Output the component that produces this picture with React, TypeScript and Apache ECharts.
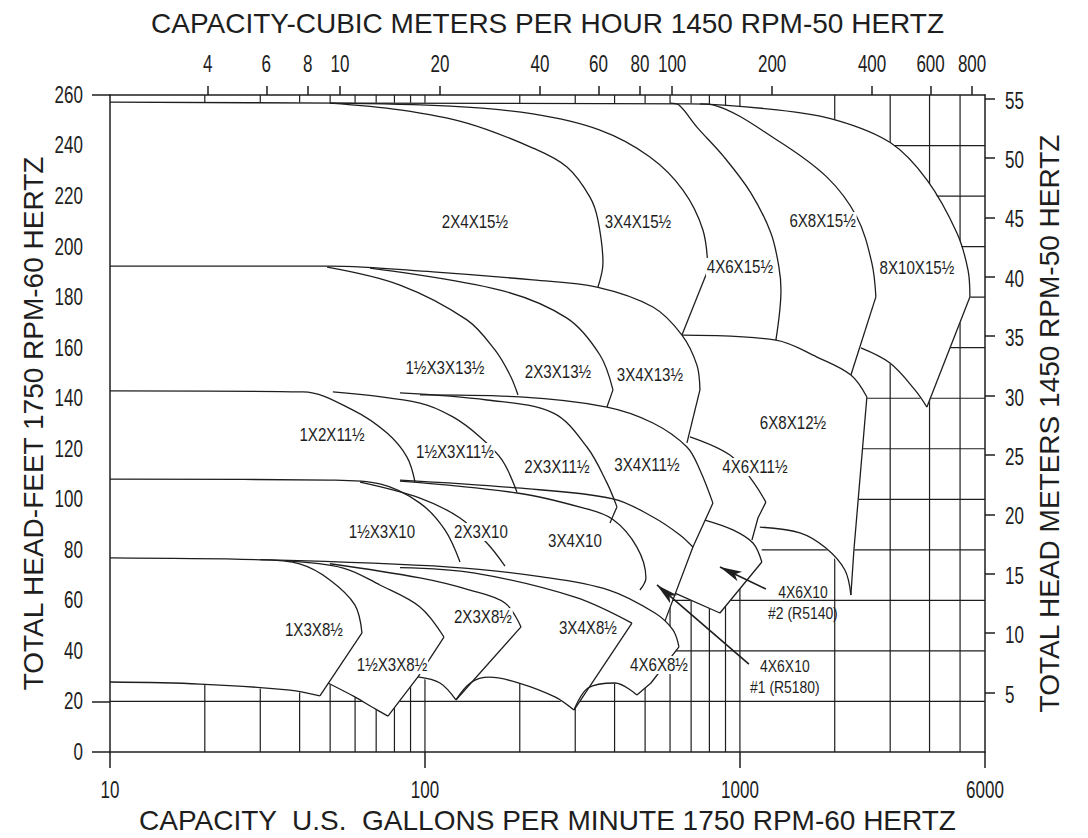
import React, { useEffect, useRef } from 'react';
import * as echarts from 'echarts';

const SANS = "'Liberation Sans', Arial, sans-serif";
const INK = '#1e1e1e';

// ---- titles
const X_TITLE_BOTTOM = 'CAPACITY  U.S.  GALLONS PER MINUTE 1750 RPM-60 HERTZ';
const X_TITLE_TOP = 'CAPACITY-CUBIC METERS PER HOUR 1450 RPM-50 HERTZ';
const Y_TITLE_LEFT = 'TOTAL HEAD-FEET 1750 RPM-60 HERTZ';
const Y_TITLE_RIGHT = 'TOTAL HEAD METERS 1450 RPM-50 HERTZ';

// ---- axes
const GPM_MIN = 10;
const GPM_MAX = 6000;
const GPM_TICKS = [10, 100, 1000, 6000];
const M3H_MIN = 2.03;
const M3H_MAX = 875;
const M3H_TICKS = [4, 6, 8, 10, 20, 40, 60, 80, 100, 200, 400, 600, 800];
const FEET_MAX = 260;
const FEET_TICKS = [0, 20, 40, 60, 80, 100, 120, 140, 160, 180, 200, 220, 240, 260];
const FEET_EDGE_TICKS = [0, 20, 260];
const METER_MAX = 55.3;
const METER_TICKS = [5, 10, 15, 20, 25, 30, 35, 40, 45, 50, 55];
const GRID_GPM = [20, 30, 40, 50, 60, 70, 80, 90, 100, 200, 300, 400, 500, 600, 700, 800, 900, 1000, 2000, 3000, 4000, 5000];
const GRID_FEET = [20, 40, 60, 80, 100, 120, 140, 160, 180, 200, 220, 240];

// ---- 15 1/2" impellers  [gpm, feet]
const T15_TOP = [[10, 257.2], [53.7, 256.8], [694, 256.5], [1311, 254.1], [2032, 250], [3017, 241], [3924, 226.4], [4887, 205.4], [5300, 190.7], [5373, 180.1]];
const T15_8X10_END = [[5373, 180.1], [3924, 136.5]];
const T15_8X10_MIN = [[3924, 136.5], [3594, 143.3], [2995, 153.9], [2421, 159.9]];
const T15_6X8 = [[746.5, 256.5], [827, 256], [1311, 242.2], [1889, 227.5], [2351, 211.7], [2624, 193.5], [2702, 180.1]];
const T15_6X8_END = [[2702, 180.1], [2251, 149.2]];
const T15_4X6 = [[599.6, 256.8], [640.4, 256], [730.3, 247.3], [889.8, 235.5], [1084, 221.2], [1254, 205.4], [1330, 191.9], [1350, 182.8], [1301, 163]];
const T15_3X4 = [[49.9, 256.8], [120.1, 255.6], [220.2, 252.5], [359.4, 246.1], [517.9, 235.5], [659.4, 222.4], [763, 206.6], [791.5, 190.7]];
const T15_3X4_END = [[791.5, 190.7], [654.6, 165]];
const T15_2X4 = [[49.9, 256.8], [83.3, 254.1], [135.9, 248.9], [220.2, 239], [282.4, 231.5], [334.1, 219.6], [354.2, 210.5], [367.4, 193.5], [354.2, 184]];

// ---- 13 1/2" and 12 1/2"
const T13_TOP = [[10, 192.3], [49.9, 192.3], [106, 190], [220.2, 186.8], [351.6, 184], [529.4, 176.1], [654.6, 165], [730.3, 153.1], [746.5, 143.3]];
const T13_TOP_END = [[746.5, 143.3], [678.9, 122.3]];
const T13_1H3 = [[48.9, 191.9], [83.3, 184.8], [135.9, 171], [166.8, 159.1], [186.2, 149.2], [197.4, 141.3]];
const T13_2X3 = [[66.9, 191.5], [173.1, 182.8], [282.4, 171.7], [359.4, 157.1], [395.3, 143.3]];
const T13_2X3_END = [[395.3, 143.3], [378.3, 136.5]];
const T12_6X8_TOP = [[654.6, 165], [1301, 163], [1756, 156.3], [2251, 149.2], [2530, 140.5]];
const T12_6X8_SIDE = [[2530, 140.5], [2301, 79.9], [2251, 62.1]];
const T12_6X8_MIN = [[2251, 62.1], [2154, 72], [1875, 80.7], [1551, 86.7], [1157, 89]];

// ---- 11 1/2"
const T11_1X2 = [[10, 142.9], [41, 142.5], [59.1, 135.3], [75.8, 126.2], [87.7, 116.7], [93, 106.8]];
const T11_1H3 = [[51, 142.5], [96.4, 138.1], [122.7, 132.6], [149.5, 124.7], [175.6, 115.6], [195.9, 102.9]];
const T11_2X3 = [[83.3, 142.1], [157.3, 139.3], [254.9, 134.2], [326.8, 120.7], [378.3, 106.5], [407, 97]];
const T11_2X3_END = [[407, 97], [386.7, 90.6]];
const T11_3X4 = [[96.4, 141.3], [200.3, 140.5], [378.3, 136.5], [529.4, 130.2], [678.9, 120.7], [746.5, 111.6], [820.9, 98.5]];
const T11_3X4_END = [[820.9, 98.5], [709.2, 81.1], [578, 51.8]];
const T11_4X6 = [[693.9, 124.7], [929.6, 117.5], [1092, 107.6], [1209, 98.9]];
const T11_4X6_END = [[1209, 98.9], [1141, 92.6], [1092, 83.9]];

// ---- 10"
const T10_TILE2_TOP = [[774.3, 91.8], [950.1, 87.9], [1100, 82.7], [1174, 75.2]];
const T10_TILE2_SIDE = [[1174, 75.2], [864.2, 55], [621.9, 62.9]];
const T10_1H3 = [[10, 108], [49.9, 107.6], [71.9, 106.1], [96.4, 98.5], [115.7, 87.9], [129.2, 75.2]];
const T10_2X3 = [[62.2, 106.8], [96.4, 100.5], [129.2, 92.6], [157.3, 82.7], [179.5, 73.6]];
const T10_3X4 = [[83.3, 107.2], [195.9, 102.5], [317.4, 96.6], [395.3, 92], [470.9, 81.1], [503, 68.9], [481.4, 64.1]];
const T10_TOP = [[83.3, 107.6], [195.9, 104.5], [395.3, 100.2], [529.4, 93], [645.1, 85.9], [709.2, 81.1]];

// ---- 8 1/2"
const T8_TOP = [[10, 76.8], [32.2, 76], [120.1, 73.2], [235.2, 69.3], [383.9, 64.1], [537.3, 55], [612.9, 48.3], [640.4, 41.6]];
const T8_TOP_END = [[640.4, 41.6], [521.8, 27.3], [470.9, 22.6]];
const T8_4X6_MIN = [[297.2, 16.6], [329.2, 25.3], [401.1, 27.3], [470.9, 22.6]];
const T8_1X3 = [[30, 76.1], [40, 74.4], [49.9, 68.1], [59.9, 58.2], [63.1, 47.1]];
const T8_1X3_END = [[63.1, 47.1], [46.4, 22.2]];
const T8_MIN = [[10, 27.7], [19.31, 26.9], [37.27, 24.5], [46.4, 22.2]];
const T8_1H3 = [[36, 75.6], [55, 72.8], [71.9, 66.1], [96.4, 57.4], [114.9, 45.5]];
const T8_1H3_END = [[114.9, 45.5], [95, 29.7], [76.3, 14.2]];
const T8_1H3_MIN = [[49.2, 27.3], [59.9, 21.8], [67.9, 17.8], [76.3, 14.2]];
const T8_2X3 = [[49.9, 74.5], [96.4, 68.9], [138.9, 64.1], [179.5, 59], [201.8, 49.5]];
const T8_2X3_END = [[201.8, 49.5], [125.4, 20.6]];
const T8_2X3_MIN = [[95, 29.7], [111.6, 27.3], [125.4, 20.6]];
const T8_3X4 = [[83.3, 73], [144.1, 70.8], [299.4, 61.3], [454.1, 51]];
const T8_3X4_END = [[454.1, 51], [297.2, 16.6]];
const T8_3X4_MIN = [[125.4, 20.6], [140, 27.5], [160, 29.6], [198.9, 27.3], [258.6, 21.8], [297.2, 16.6]];

// ---- outline of all covered areas (hides the grid)
const COVERED = [
  [10, 257.2], [53.7, 256.8], [694, 256.5], [1311, 254.1], [2032, 250], [3017, 241], [3924, 226.4], [4887, 205.4], [5300, 190.7], [5373, 180.1],
  [3924, 136.5], [3594, 143.3], [2995, 153.9], [2421, 159.9], [2251, 149.2],
  [2530, 140.5], [2301, 79.9], [2251, 62.1], [2154, 72], [1875, 80.7], [1551, 86.7], [1157, 89],
  [1174, 75.2], [864.2, 55], [621.9, 62.9], [578, 51.8],
  [612.9, 48.3], [640.4, 41.6], [521.8, 27.3], [470.9, 22.6],
  [401.1, 27.3], [329.2, 25.3], [297.2, 16.6],
  [258.6, 21.8], [198.9, 27.3], [160, 29.6], [140, 27.5], [125.4, 20.6],
  [111.6, 27.3], [95, 29.7], [76.3, 14.2],
  [67.9, 17.8], [59.9, 21.8], [49.2, 27.3], [46.4, 22.2],
  [37.27, 24.5], [19.31, 26.9], [10, 27.7],
];

const SMOOTH_CURVES = [
  T15_TOP, T15_8X10_MIN, T15_6X8, T15_4X6, T15_3X4, T15_2X4,
  T13_TOP, T13_1H3, T13_2X3, T12_6X8_TOP, T12_6X8_MIN,
  T11_1X2, T11_1H3, T11_2X3, T11_3X4, T11_4X6,
  T10_TILE2_TOP, T10_1H3, T10_2X3, T10_3X4, T10_TOP,
  T8_TOP, T8_4X6_MIN, T8_1X3, T8_MIN, T8_1H3, T8_1H3_MIN, T8_2X3, T8_2X3_MIN, T8_3X4, T8_3X4_MIN,
];
const STRAIGHT_CURVES = [
  T15_8X10_END, T15_6X8_END, T15_3X4_END, T13_TOP_END, T13_2X3_END, T12_6X8_SIDE,
  T11_2X3_END, T11_3X4_END, T11_4X6_END, T10_TILE2_SIDE,
  T8_TOP_END, T8_1X3_END, T8_1H3_END, T8_2X3_END, T8_3X4_END,
];

// ---- pump model labels
const PUMP_NAMES = [
  '2X4X15½', '3X4X15½', '4X6X15½', '6X8X15½', '8X10X15½',
  '1½X3X13½', '2X3X13½', '3X4X13½', '6X8X12½',
  '1X2X11½', '1½X3X11½', '2X3X11½', '3X4X11½', '4X6X11½',
  '1½X3X10', '2X3X10', '3X4X10',
  '1X3X8½', '1½X3X8½', '2X3X8½', '3X4X8½', '4X6X8½',
];
const PUMP_AT = [
  [144.1, 209.7], [474.6, 209.7], [1000, 191.9], [1830, 210.1], [3647, 191.5],
  [115.7, 152], [264.4, 150.4], [517.9, 149.2], [1474, 130.2],
  [50.7, 125.4], [124.5, 118.7], [262.4, 112.8], [506.7, 113.6], [1116, 112.8],
  [73, 87.1], [150.6, 87.1], [299.4, 83.5],
  [44.4, 48.3], [78.6, 34.4], [152.8, 53.4], [329.2, 49.1], [553.4, 34.4],
];
const NOTE_TEXT = ['4X6X10\n#2 (R5140)', '4X6X10\n#1 (R5180)'];
const NOTE_AT = [[1585, 59.2], [1389, 29.7]];
const ARROWS = [
  [[1209, 64.5], [864.2, 73.2]],
  [[1068, 34.8], [545.3, 66.1]],
];

// condensed text drawn at a point given by the axes
function textAt(p: number[], text: string, align: string, vAlign: string, size: number, sx: number, extra: any = {}) {
  return {
    type: 'text', x: p[0], y: p[1], scaleX: sx,
    style: { text, x: 0, y: 0, align, verticalAlign: vAlign, fontFamily: SANS, fontSize: size, fill: INK, ...extra },
  };
}

function buildOption() {
  const lineStyle = { color: INK, width: 1.5 };
  const titleFont = { fontFamily: SANS, fontSize: 28, color: INK };
  const TICK_SIZE = 23;
  const TICK_SX = 0.74;

  const curveSeries: any[] = [];
  SMOOTH_CURVES.forEach((d) =>
    curveSeries.push({
      type: 'line', data: d, smooth: 0.35, symbol: 'none', showSymbol: false, silent: true, z: 3,
      lineStyle: { color: INK, width: 1.3 }, xAxisIndex: 0, yAxisIndex: 0,
    })
  );
  STRAIGHT_CURVES.forEach((d) =>
    curveSeries.push({
      type: 'line', data: d, smooth: false, symbol: 'none', showSymbol: false, silent: true, z: 3,
      lineStyle: { color: INK, width: 1.3 }, xAxisIndex: 0, yAxisIndex: 0,
    })
  );

  return {
    animation: false,
    backgroundColor: '#ffffff',
    grid: { left: 110, right: 103, top: 95, bottom: 86, containLabel: false, outerBoundsMode: 'none' },
    xAxis: [
      {
        type: 'log', logBase: 10, min: GPM_MIN, max: GPM_MAX, position: 'bottom', z: 6,
        name: X_TITLE_BOTTOM, nameLocation: 'middle', nameGap: 54, nameTextStyle: titleFont,
        axisLine: { show: true, onZero: false, lineStyle },
        axisTick: { show: true, inside: false, length: 16, customValues: GPM_TICKS, lineStyle },
        axisLabel: { show: false },
        splitLine: { show: false }, minorTick: { show: false }, minorSplitLine: { show: false },
      },
      {
        type: 'log', logBase: 10, min: M3H_MIN, max: M3H_MAX, position: 'top', z: 6,
        name: X_TITLE_TOP, nameLocation: 'middle', nameGap: 58, nameTextStyle: titleFont,
        axisLine: { show: true, onZero: false, lineStyle },
        axisTick: { show: true, inside: false, length: 9, customValues: M3H_TICKS, lineStyle },
        axisLabel: { show: false },
        splitLine: { show: false },
      },
    ],
    yAxis: [
      {
        type: 'value', min: 0, max: FEET_MAX, interval: 20, position: 'left', z: 6,
        name: Y_TITLE_LEFT, nameLocation: 'middle', nameRotate: 90, nameGap: 63, nameTextStyle: titleFont,
        axisLine: { show: true, onZero: false, lineStyle },
        axisTick: { show: true, inside: false, length: 18, customValues: FEET_EDGE_TICKS, lineStyle },
        axisLabel: { show: false },
        splitLine: { show: false },
      },
      {
        type: 'value', min: 0, max: METER_MAX, position: 'right', z: 6,
        name: Y_TITLE_RIGHT, nameLocation: 'middle', nameRotate: 90, nameGap: 50, nameTextStyle: titleFont,
        axisLine: { show: true, onZero: false, lineStyle },
        axisTick: { show: true, inside: false, length: 10, customValues: METER_TICKS, lineStyle },
        axisLabel: { show: false },
        splitLine: { show: false },
      },
    ],
    series: [
      {
        type: 'custom', xAxisIndex: 0, yAxisIndex: 0, silent: true, z: 1,
        data: GRID_GPM.map((v) => [v, 0]),
        renderItem: (params: any, api: any) => {
          const x = api.value(0);
          const a = api.coord([x, 0]);
          const b = api.coord([x, FEET_MAX]);
          return { type: 'line', shape: { x1: a[0], y1: a[1], x2: b[0], y2: b[1] }, style: { stroke: INK, lineWidth: 1.2 } };
        },
      },
      {
        type: 'custom', xAxisIndex: 0, yAxisIndex: 0, silent: true, z: 1,
        data: GRID_FEET.map((v) => [GPM_MIN, v]),
        renderItem: (params: any, api: any) => {
          const y = api.value(1);
          const a = api.coord([GPM_MIN, y]);
          const b = api.coord([GPM_MAX, y]);
          return { type: 'line', shape: { x1: a[0], y1: a[1], x2: b[0], y2: b[1] }, style: { stroke: INK, lineWidth: 1.2 } };
        },
      },
      {
        type: 'custom', xAxisIndex: 0, yAxisIndex: 0, silent: true, z: 2,
        data: [[GPM_MIN, 0]],
        renderItem: (params: any, api: any) => ({
          type: 'polygon',
          shape: { points: COVERED.map((p) => api.coord(p)) },
          style: { fill: '#ffffff', stroke: '#ffffff', lineWidth: 1 },
        }),
      },
      ...curveSeries,
      // tick labels: feet (left)
      {
        type: 'custom', xAxisIndex: 0, yAxisIndex: 0, silent: true, z: 7, clip: false,
        data: FEET_TICKS.map((v) => [GPM_MIN, v]),
        renderItem: (params: any, api: any) => {
          const p = api.coord([GPM_MIN, api.value(1)]);
          return textAt([p[0] - 27, p[1]], String(FEET_TICKS[params.dataIndex]), 'right', 'middle', TICK_SIZE, TICK_SX);
        },
      },
      // tick labels: meters (right)
      {
        type: 'custom', xAxisIndex: 0, yAxisIndex: 1, silent: true, z: 7, clip: false,
        data: METER_TICKS.map((v) => [GPM_MAX, v]),
        renderItem: (params: any, api: any) => {
          const p = api.coord([GPM_MAX, api.value(1)]);
          return textAt([p[0] + 20, p[1] + 2], String(METER_TICKS[params.dataIndex]), 'left', 'middle', TICK_SIZE, TICK_SX);
        },
      },
      // tick labels: gpm (bottom)
      {
        type: 'custom', xAxisIndex: 0, yAxisIndex: 0, silent: true, z: 7, clip: false,
        data: GPM_TICKS.map((v) => [v, 0]),
        renderItem: (params: any, api: any) => {
          const p = api.coord([api.value(0), 0]);
          return textAt([p[0], p[1] + 27], String(GPM_TICKS[params.dataIndex]), 'center', 'top', TICK_SIZE, TICK_SX);
        },
      },
      // tick labels: cubic meters per hour (top)
      {
        type: 'custom', xAxisIndex: 1, yAxisIndex: 0, silent: true, z: 7, clip: false,
        data: M3H_TICKS.map((v) => [v, FEET_MAX]),
        renderItem: (params: any, api: any) => {
          const p = api.coord([api.value(0), FEET_MAX]);
          return textAt([p[0], p[1] - 19], String(M3H_TICKS[params.dataIndex]), 'center', 'bottom', TICK_SIZE, TICK_SX);
        },
      },
      // pump model names
      {
        type: 'custom', xAxisIndex: 0, yAxisIndex: 0, silent: true, z: 5,
        data: PUMP_AT,
        renderItem: (params: any, api: any) => {
          const p = api.coord([api.value(0), api.value(1)]);
          return textAt(p, PUMP_NAMES[params.dataIndex], 'center', 'middle', 18, 0.84, { backgroundColor: '#ffffff', padding: [0, 1] });
        },
      },
      // notes with arrows
      {
        type: 'custom', xAxisIndex: 0, yAxisIndex: 0, silent: true, z: 5,
        data: NOTE_AT,
        renderItem: (params: any, api: any) => {
          const p = api.coord([api.value(0), api.value(1)]);
          return textAt(p, NOTE_TEXT[params.dataIndex], 'center', 'middle', 17, 0.82, { lineHeight: 21 });
        },
        markLine: {
          silent: true, symbol: ['none', 'arrow'], symbolSize: [8, 22], animation: false,
          lineStyle: { color: INK, width: 1.6, type: 'solid' }, label: { show: false },
          data: ARROWS.map((a) => [{ coord: a[0] }, { coord: a[1] }]),
        },
      },
    ],
  };
}

export default function App() {
  const ref = useRef<HTMLDivElement>(null);
  useEffect(() => {
    const chart = echarts.init(ref.current as HTMLDivElement, null, { renderer: 'svg' });
    chart.setOption(buildOption() as any);
    return () => chart.dispose();
  }, []);
  return (
    <div
      ref={ref}
      style={{ position: 'absolute', left: 0, top: 0, width: 1088, height: 838, background: '#ffffff' }}
    />
  );
}
